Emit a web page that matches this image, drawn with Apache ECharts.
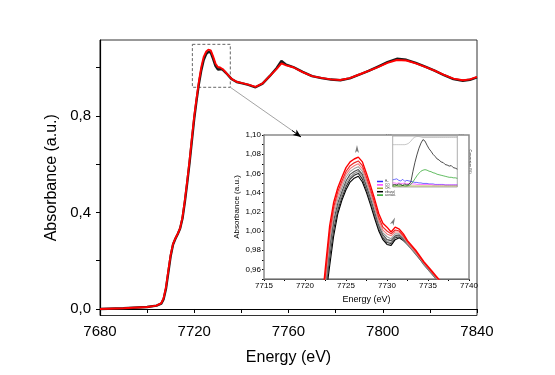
<!DOCTYPE html>
<html>
<head>
<meta charset="utf-8">
<script src="https://cdn.jsdelivr.net/npm/echarts@6/dist/echarts.min.js"></script>
<style>html,body{margin:0;padding:0;background:#fff;}#c{width:555px;height:375px;}</style>
</head>
<body>
<div id="c"></div>
<script>
// ---------- main spectrum ----------
var mainE = [7680,7690,7700,7704,7706,7707,7708,7709,7710,7711,7712,7713,7714,7715,7716,7717,7718,7719,7720,7721,7722,7723,7724,7725,7726,7727,7728,7729,7730,7731,7732,7733,7734,7735,7736,7738,7740,7743,7746,7749,7752,7755,7757,7759,7762,7766,7770,7774,7778,7782,7786,7790,7794,7798,7802,7806,7810,7814,7818,7822,7826,7830,7834,7837,7840];
var mainRed = [0.000,0.003,0.008,0.014,0.024,0.045,0.090,0.160,0.225,0.270,0.293,0.312,0.335,0.380,0.450,0.530,0.615,0.710,0.800,0.875,0.945,1.003,1.045,1.066,1.075,1.072,1.047,1.018,1.003,1.001,0.995,0.985,0.974,0.963,0.953,0.942,0.937,0.930,0.921,0.935,0.965,0.995,1.018,1.010,1.002,0.982,0.965,0.958,0.952,0.949,0.957,0.972,0.987,1.003,1.020,1.032,1.030,1.018,1.004,0.988,0.970,0.955,0.948,0.952,0.962];
var mainBlack = [0.000,0.003,0.008,0.014,0.022,0.041,0.084,0.152,0.220,0.267,0.291,0.311,0.334,0.375,0.443,0.522,0.606,0.698,0.790,0.866,0.935,0.990,1.032,1.056,1.066,1.063,1.037,1.008,0.993,0.994,0.992,0.983,0.973,0.962,0.952,0.941,0.936,0.929,0.919,0.934,0.965,0.999,1.028,1.013,1.003,0.983,0.965,0.957,0.951,0.948,0.956,0.971,0.987,1.005,1.023,1.037,1.033,1.020,1.005,0.988,0.969,0.953,0.946,0.950,0.960];
var mainXTicks = [7680,7720,7760,7800,7840];
var mainYTicks = [0,0.4,0.8];
var mainYMinor = [0,0.2,0.4,0.6,0.8,1.0];

// ---------- inset (zoom on white line) ----------
var insetE = [7722,7722.5,7723,7723.5,7724,7724.5,7725,7725.5,7726,7726.5,7727,7727.5,7728,7728.5,7729,7729.5,7730,7730.5,7731,7731.5,7732,7732.5,7733,7733.5,7734,7734.5,7735,7735.5,7736,7736.5,7737];
var inR1 = [0.920,0.963,1.005,1.030,1.045,1.056,1.066,1.072,1.075,1.077,1.072,1.060,1.047,1.033,1.018,1.008,1.004,0.999,1.004,1.002,0.997,0.990,0.985,0.980,0.974,0.968,0.963,0.958,0.953,0.948,0.943];
var inR2 = [0.915,0.955,0.998,1.025,1.041,1.052,1.062,1.068,1.071,1.073,1.068,1.056,1.043,1.029,1.014,1.004,1.000,0.997,1.001,1.000,0.995,0.989,0.984,0.979,0.973,0.967,0.962,0.957,0.952,0.947,0.942];
var inR3 = [0.912,0.951,0.993,1.021,1.037,1.049,1.059,1.065,1.068,1.070,1.065,1.053,1.040,1.026,1.011,1.001,0.997,0.995,0.999,0.999,0.994,0.988,0.983,0.978,0.972,0.967,0.962,0.957,0.952,0.947,0.942];
var inG1 = [0.910,0.947,0.988,1.016,1.033,1.045,1.056,1.062,1.065,1.067,1.062,1.050,1.037,1.023,1.008,0.998,0.994,0.992,0.997,0.997,0.993,0.987,0.982,0.977,0.972,0.966,0.961,0.956,0.951,0.946,0.941];
var inK1 = [0.907,0.943,0.983,1.011,1.029,1.041,1.052,1.059,1.062,1.064,1.059,1.047,1.034,1.020,1.006,0.996,0.991,0.990,0.995,0.996,0.992,0.987,0.982,0.977,0.971,0.966,0.961,0.956,0.951,0.946,0.941];
var inG2 = [0.905,0.939,0.978,1.007,1.025,1.038,1.049,1.056,1.060,1.062,1.057,1.045,1.032,1.018,1.004,0.994,0.989,0.988,0.994,0.995,0.991,0.986,0.981,0.976,0.971,0.965,0.960,0.955,0.950,0.945,0.940];
var inK2 = [0.903,0.935,0.972,1.002,1.022,1.035,1.046,1.054,1.058,1.060,1.054,1.043,1.030,1.016,1.002,0.993,0.988,0.987,0.993,0.994,0.991,0.986,0.981,0.976,0.971,0.965,0.960,0.955,0.950,0.945,0.940];
var inK3 = [0.900,0.930,0.963,0.995,1.018,1.032,1.043,1.051,1.055,1.057,1.051,1.040,1.027,1.013,1.000,0.991,0.986,0.985,0.991,0.993,0.990,0.986,0.982,0.977,0.972,0.966,0.961,0.956,0.951,0.946,0.941];
var insetXTicks = [7715,7720,7725,7730,7735,7740];
var insetYTicks = [0.96,0.98,1.00,1.02,1.04,1.06,1.08,1.10];

// ---------- small sub-inset (time on stream) ----------
var subT = [0,0.05,0.1,0.15,0.2,0.25,0.3,0.35,0.4,0.45,0.5,0.55,0.6,0.65,0.7,0.75,0.8,0.85,0.9,0.95,1.0,1.05,1.1,1.15,1.2,1.25,1.3,1.35,1.4,1.45,1.5,1.55,1.6];
var subBlack = [4,5,4,6,5,3,6,4,5,10,30,48,63,76,86,93,90,82,75,70,64,60,55,53,49,48,44,43,41,42,38,37,35];
var subGreen = [2,2,3,2,2,3,2,2,3,5,10,16,22,27,31,33,34,33,31,30,28,27,25,24,23,22,21,20,19,19,18,18,17];
var subBlue = [14,15,16,13,12,15,11,13,12,11,10,9,9,8,8,7,7,7,6,6,6,5,5,5,5,5,4,4,4,4,4,4,4];
var subMag = [8,8,7,8,7,7,8,6,7,6,6,6,5,5,5,5,5,5,5,5,4,4,4,4,4,4,4,4,4,4,4,4,4];
var subOlive = [2,2,2,2,2,2,2,2,2,2,2,2,2,2,2,2,2,2,2,2,2,2,2,2,2,2,2,2,2,2,2,2,2];
var subGray = [83,83,83,83,83,83,83,84,86,90,95,98,99,99,98,97,97,97,97,97,97,97,97,97,97,97,97,97,97,97,97,97,97];
var subXTicks = [0,0.2,0.4,0.6,0.8,1.0,1.2,1.4,1.6];
var subLegend = ['H\u2082','CO','CH\u2084','ethanol','acetald.'];

function pairs(xs, ys){ return xs.map(function(x,i){ return [x, ys[i]]; }); }
var FONT = '"Liberation Sans", Arial, sans-serif';

function line(name, xi, yi, xs, ys, color, width, extra){
  var s = {name:name, type:'line', xAxisIndex:xi, yAxisIndex:yi, data:pairs(xs,ys), symbol:'none',
    lineStyle:{color:color, width:width}, itemStyle:{color:color}, clip:true, animation:false, z:3};
  if (extra) for (var k in extra) s[k]=extra[k];
  return s;
}

var chart = echarts.init(document.getElementById('c'), null, {renderer:'canvas'});
var option = {
  backgroundColor:'#fff',
  animation:false,
  textStyle:{fontFamily:FONT},
  grid:[
    {left:100, right:78, top:40, bottom:59.5, show:true, borderColor:'#333', borderWidth:1, containLabel:false},
    {left:264, right:86, top:135, bottom:96, show:true, borderColor:'#8a8a8a', borderWidth:1.5, backgroundColor:'#fff', z:5},
    {left:392.7, right:97.7, top:136, bottom:188, show:true, borderColor:'#999', borderWidth:0.8, backgroundColor:'#fff', z:6}
  ],
  legend:{
    data:subLegend, orient:'vertical', left:377, top:180, itemWidth:6, itemHeight:1.5, itemGap:0.4, padding:0,
    icon:'rect', textStyle:{fontSize:3, color:'#333', padding:[0,0,0,-3]}, z:20
  },
  xAxis:[
    {gridIndex:0, type:'value', min:7680, max:7840, interval:20,
      axisLine:{lineStyle:{color:'#000', width:1.2}},
      axisTick:{length:4, lineStyle:{color:'#000'}},
      axisLabel:{customValues:mainXTicks, formatter:function(v){return String(v);}, fontSize:15, color:'#000', margin:9, fontFamily:FONT},
      splitLine:{show:false},
      name:'Energy (eV)', nameLocation:'middle', nameGap:34, nameTextStyle:{fontSize:16, color:'#000', fontFamily:FONT}},
    {gridIndex:1, type:'value', min:7715, max:7740, interval:2.5,
      axisLine:{lineStyle:{color:'#000', width:1}},
      axisTick:{length:2, lineStyle:{color:'#000'}},
      axisLabel:{customValues:insetXTicks, formatter:function(v){return String(v);}, fontSize:8, color:'#000', margin:3, fontFamily:FONT},
      splitLine:{show:false},
      name:'Energy (eV)', nameLocation:'middle', nameGap:16, nameTextStyle:{fontSize:9, color:'#000', fontFamily:FONT}},
    {gridIndex:2, type:'value', min:0, max:1.6, interval:0.2,
      axisLine:{lineStyle:{color:'#000', width:0.6}},
      axisTick:{length:1, lineStyle:{color:'#000', width:0.5}},
      axisLabel:{customValues:subXTicks, formatter:function(v){return v.toFixed(1);}, fontSize:3.5, color:'#000', margin:1},
      splitLine:{show:false},
      name:'Time on stream(h)', nameLocation:'middle', nameGap:5, nameTextStyle:{fontSize:3.5, color:'#000'}}
  ],
  yAxis:[
    {gridIndex:0, type:'value', min:-0.027, max:1.115,
      axisLine:{lineStyle:{color:'#000', width:1.2}},
      axisTick:{customValues:mainYMinor, length:4, lineStyle:{color:'#000'}},
      axisLabel:{customValues:mainYTicks, formatter:function(v){return v.toFixed(1).replace('.',',');}, fontSize:15, color:'#000', margin:9, fontFamily:FONT},
      splitLine:{show:false},
      name:'Absorbance (a.u.)', nameLocation:'middle', nameGap:38, nameRotate:90, nameTextStyle:{fontSize:16, color:'#000', fontFamily:FONT}},
    {gridIndex:1, type:'value', min:0.95, max:1.10, interval:0.01,
      axisLine:{lineStyle:{color:'#000', width:1}},
      axisTick:{length:2, lineStyle:{color:'#000'}},
      axisLabel:{customValues:insetYTicks, formatter:function(v){return v.toFixed(2).replace('.',',');}, fontSize:8, color:'#000', margin:3, fontFamily:FONT},
      splitLine:{show:false},
      name:'Absorbance (a.u.)', nameLocation:'middle', nameGap:23, nameRotate:90, nameTextStyle:{fontSize:8, color:'#000', fontFamily:FONT}},
    {gridIndex:2, type:'value', min:0, max:100, interval:20,
      axisLine:{lineStyle:{color:'#000', width:0.6}},
      axisTick:{length:1, lineStyle:{color:'#000', width:0.5}},
      axisLabel:{fontSize:3.5, color:'#000', margin:1},
      splitLine:{show:false},
      name:'Signal intensity (a.u.)', nameLocation:'middle', nameGap:7, nameRotate:90, nameTextStyle:{fontSize:3.5, color:'#000'}},
    {gridIndex:2, type:'value', position:'right', min:0, max:100, interval:20,
      axisLine:{show:true, lineStyle:{color:'#000', width:0.6}},
      axisTick:{length:1, lineStyle:{color:'#000', width:0.5}},
      axisLabel:{fontSize:3.5, color:'#000', margin:1},
      splitLine:{show:false},
      name:'Conversion (%)', nameLocation:'middle', nameGap:6, nameRotate:-90, nameTextStyle:{fontSize:3.5, color:'#000'}}
  ],
  series:[
    line('main black', 0, 0, mainE, mainBlack, '#1a1a1a', 2.4),
    line('main red', 0, 0, mainE, mainRed, '#ff0000', 1.9, {
      markArea:{silent:true, itemStyle:{color:'rgba(0,0,0,0)', borderColor:'#666', borderWidth:1, borderType:[3,2]},
        data:[[{coord:[7719.2,1.097]},{coord:[7735.3,0.919]}]]},
      markLine:{silent:true, animation:false, label:{show:false},
        data:[
          [{coord:[7735.3,0.919], symbol:'none', lineStyle:{color:'#8c8c8c', width:0.8, type:'solid'}},{coord:[7762.5,0.733], symbol:'none'}],
          [{coord:[7761.5,0.740], symbol:'none', lineStyle:{color:'#000', width:1, type:'solid'}},{coord:[7765.3,0.713], symbol:'arrow', symbolSize:[5,8]}]
        ]}
    }),
    line('k3', 1, 1, insetE, inK3, '#000000', 1.1, {z:7}),
    line('k2', 1, 1, insetE, inK2, '#262626', 1.1, {z:7}),
    line('g2', 1, 1, insetE, inG2, '#8c8c8c', 1.1, {z:7}),
    line('k1', 1, 1, insetE, inK1, '#4d4d4d', 1.1, {z:7}),
    line('g1', 1, 1, insetE, inG1, '#a0a0a0', 1.1, {z:7}),
    line('r3', 1, 1, insetE, inR3, '#f27a7a', 1.1, {z:7}),
    line('r2', 1, 1, insetE, inR2, '#ea2a2a', 1.2, {z:7}),
    line('r1', 1, 1, insetE, inR1, '#ff0000', 1.4, {z:7,
      markPoint:{silent:true, symbol:'arrow', symbolSize:[3,8], itemStyle:{color:'#7a7a7a'}, label:{show:false},
        data:[{coord:[7726.34,1.0895], symbolRotate:0},{coord:[7730.98,1.014], symbolRotate:-25}]}
    }),
    line('gray', 2, 2, subT, subGray, '#b0b0b0', 0.7, {z:8}),
    line('H\u2082', 2, 2, subT, subBlue, '#3030ff', 0.7, {z:8}),
    line('CO', 2, 2, subT, subMag, '#ff40ff', 0.7, {z:8}),
    line('CH\u2084', 2, 2, subT, subOlive, '#a0a020', 0.7, {z:8}),
    line('acetald.', 2, 2, subT, subGreen, '#20a020', 0.7, {z:8}),
    line('ethanol', 2, 2, subT, subBlack, '#000000', 0.7, {z:8,
      markArea:{silent:true, itemStyle:{color:'rgba(0,0,0,0)', borderColor:'#ff5050', borderWidth:1},
        data:[[{xAxis:0.4, yAxis:0},{xAxis:0.8, yAxis:100}]]}
    })
  ]
};
chart.setOption(option);
</script>
</body>
</html>
